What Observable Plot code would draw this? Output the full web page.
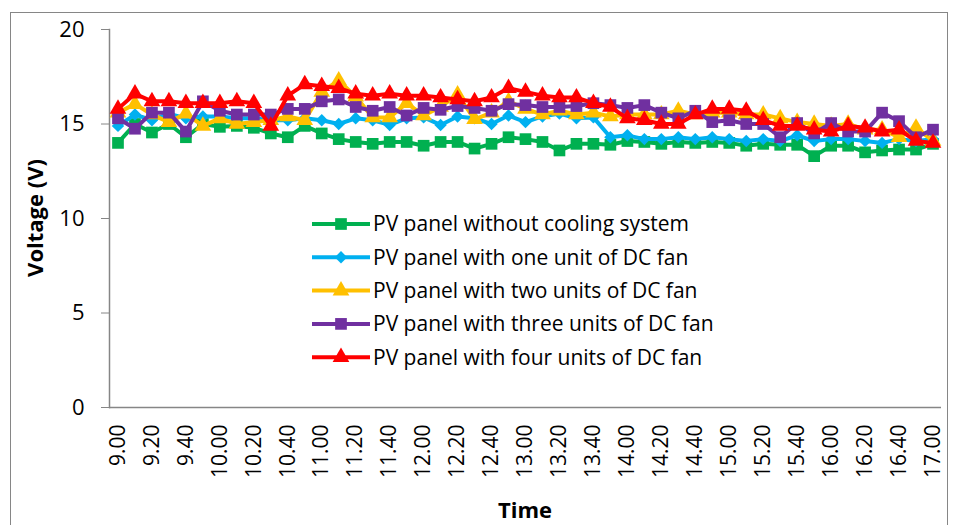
<!DOCTYPE html>
<html>
<head>
<meta charset="utf-8">
<script src="https://cdn.jsdelivr.net/npm/d3@7"></script>
<script src="https://cdn.jsdelivr.net/npm/@observablehq/plot@0.6"></script>
<style>
  html, body { margin: 0; padding: 0; background: #fff; }
  #chart { width: 958px; height: 525px; overflow: hidden; }
</style>
</head>
<body>
<div id="chart"></div>
<script>
const times = ["9.00","9.10","9.20","9.30","9.40","9.50","10.00","10.10","10.20","10.30","10.40","10.50",
  "11.00","11.10","11.20","11.30","11.40","11.50","12.00","12.10","12.20","12.30","12.40","12.50",
  "13.00","13.10","13.20","13.30","13.40","13.50","14.00","14.10","14.20","14.30","14.40","14.50",
  "15.00","15.10","15.20","15.30","15.40","15.50","16.00","16.10","16.20","16.30","16.40","16.50","17.00"];
const tickLabels = ["9.00","9.20","9.40","10.00","10.20","10.40","11.00","11.20","11.40","12.00","12.20","12.40",
  "13.00","13.20","13.40","14.00","14.20","14.40","15.00","15.20","15.40","16.00","16.20","16.40","17.00"];
const yTicks = [0, 5, 10, 15, 20];

const seriesNames = [
  "PV panel without cooling system",
  "PV panel with one unit of DC fan",
  "PV panel with two units of DC fan",
  "PV panel with three units of DC fan",
  "PV panel with four units of DC fan"
];
const seriesColors = ["#00B050", "#00B0F0", "#FFC000", "#7030A0", "#FF0000"];
const seriesSymbols = ["square", "diamond2", "triangle", "square", "triangle"];

const noCooling = [14.0,15.0,14.55,15.0,14.3,15.0,14.85,14.9,14.8,14.5,14.3,14.9,
  14.5,14.2,14.05,13.95,14.05,14.05,13.85,14.05,14.05,13.7,13.95,14.3,
  14.2,14.05,13.6,13.95,13.95,13.9,14.1,14.05,13.95,14.05,14.0,14.05,
  14.0,13.85,13.95,13.9,13.9,13.3,13.85,13.85,13.5,13.6,13.65,13.65,13.95];
const oneFan = [14.9,15.5,15.2,15.55,15.3,15.4,15.4,15.3,15.3,15.2,15.2,15.3,
  15.2,15.0,15.3,15.2,14.95,15.3,15.35,14.95,15.4,15.3,15.0,15.45,
  15.1,15.4,15.55,15.3,15.35,14.3,14.4,14.2,14.2,14.3,14.2,14.3,
  14.2,14.1,14.2,14.1,14.4,14.1,14.2,14.2,14.1,14.0,14.2,14.1,14.2];
const twoFans = [15.6,16.05,15.5,15.1,15.55,14.9,15.3,15.0,15.1,15.2,15.4,15.2,
  16.7,17.3,16.45,15.35,15.35,16.1,15.45,15.9,16.55,15.25,15.6,16.2,
  15.8,15.5,15.7,15.5,15.6,15.4,15.5,15.5,15.5,15.7,15.5,15.6,
  15.6,15.5,15.5,15.3,15.1,15.0,14.9,15.0,14.7,14.7,14.3,14.8,14.1];
const threeFans = [15.3,14.75,15.6,15.6,14.6,16.2,15.7,15.5,15.5,15.5,15.8,15.8,
  16.2,16.3,15.9,15.7,15.9,15.45,15.85,15.75,15.95,15.85,15.7,16.05,
  16.0,15.9,15.9,15.95,16.1,16.0,15.85,16.0,15.6,15.3,15.7,15.1,
  15.2,15.0,15.0,14.3,15.05,14.5,15.05,14.6,14.6,15.6,15.15,14.3,14.7];
const fourFans = [15.8,16.6,16.2,16.2,16.1,16.1,16.1,16.2,16.1,14.9,16.5,17.1,
  17.0,16.9,16.6,16.5,16.6,16.5,16.5,16.4,16.3,16.2,16.4,16.9,
  16.7,16.5,16.4,16.4,16.1,15.9,15.3,15.2,15.0,15.0,15.5,15.8,
  15.8,15.7,15.2,14.9,14.9,14.7,14.6,14.9,14.8,14.6,14.7,14.1,14.0];
const seriesValues = [noCooling, oneFan, twoFans, threeFans, fourFans];

const symbolR = {square: 6.6, diamond2: 5.6, triangle: 6.2};

const seriesMarks = [];
seriesNames.forEach((name, s) => {
  const rows = times.map((t, i) => ({time: t, v: seriesValues[s][i]}));
  seriesMarks.push(Plot.line(rows, {x: "time", y: "v", stroke: seriesColors[s], strokeWidth: 4}));
  seriesMarks.push(Plot.dot(rows, {x: "time", y: "v", symbol: seriesSymbols[s], r: symbolR[seriesSymbols[s]], fill: seriesColors[s], stroke: "none"}));
});

const FONT = "'Open Sans', sans-serif";
const chart = Plot.plot({
  width: 958,
  height: 525,
  marginLeft: 109,
  marginRight: 17,
  marginTop: 29,
  marginBottom: 118,
  style: {fontFamily: FONT, fontSize: "21px", color: "#000", background: "#fff", overflow: "visible"},
  x: {type: "point", domain: times, padding: 0.5, label: null},
  y: {domain: [0, 20], label: null},
  marks: [
    Plot.axisY({ticks: yTicks, tickSize: 8, tickPadding: 17, stroke: "#868686", fontSize: 22, label: null}),
    Plot.axisX({ticks: tickLabels, tickSize: 0, tickPadding: 17, tickRotate: -90, fontSize: 21, label: null}),
    Plot.ruleY([0], {stroke: "#868686", strokeWidth: 1.5}),
    Plot.frame({anchor: "left", stroke: "#868686", strokeWidth: 1.5}),
    ...seriesMarks
  ]
});

const svg = d3.select(chart);
// outer chart border
svg.insert("rect", ":first-child")
  .attr("x", 10.5).attr("y", 12.5).attr("width", 937).attr("height", 530)
  .attr("fill", "none").attr("stroke", "#868686").attr("stroke-width", 1);

// axis titles
svg.append("text").attr("x", 525).attr("y", 518).attr("text-anchor", "middle")
  .attr("font-family", FONT).attr("font-weight", "bold").attr("font-size", 22).attr("fill", "#000")
  .text("Time");
svg.append("text").attr("transform", "translate(43,218) rotate(-90)").attr("text-anchor", "middle")
  .attr("font-family", FONT).attr("font-weight", "bold").attr("font-size", 22).attr("fill", "#000")
  .text("Voltage (V)");

// legend
const lg = svg.append("g");
seriesNames.forEach((name, s) => {
  const y = 224 + s * 33.3;
  lg.append("line").attr("x1", 312).attr("x2", 370).attr("y1", y).attr("y2", y)
    .attr("stroke", seriesColors[s]).attr("stroke-width", 4);
  const r = symbolR[seriesSymbols[s]];
  const symType = {square: d3.symbolSquare, diamond2: d3.symbolDiamond2, triangle: d3.symbolTriangle}[seriesSymbols[s]];
  lg.append("path").attr("d", d3.symbol(symType, Math.PI * r * r)()).attr("transform", `translate(341,${y})`)
    .attr("fill", seriesColors[s]);
  lg.append("text").attr("x", 373).attr("y", y).attr("dy", "0.35em").attr("text-anchor", "start")
    .attr("font-family", FONT).attr("font-size", 21).attr("fill", "#000").text(name);
});

document.getElementById("chart").appendChild(chart);
</script>
</body>
</html>
